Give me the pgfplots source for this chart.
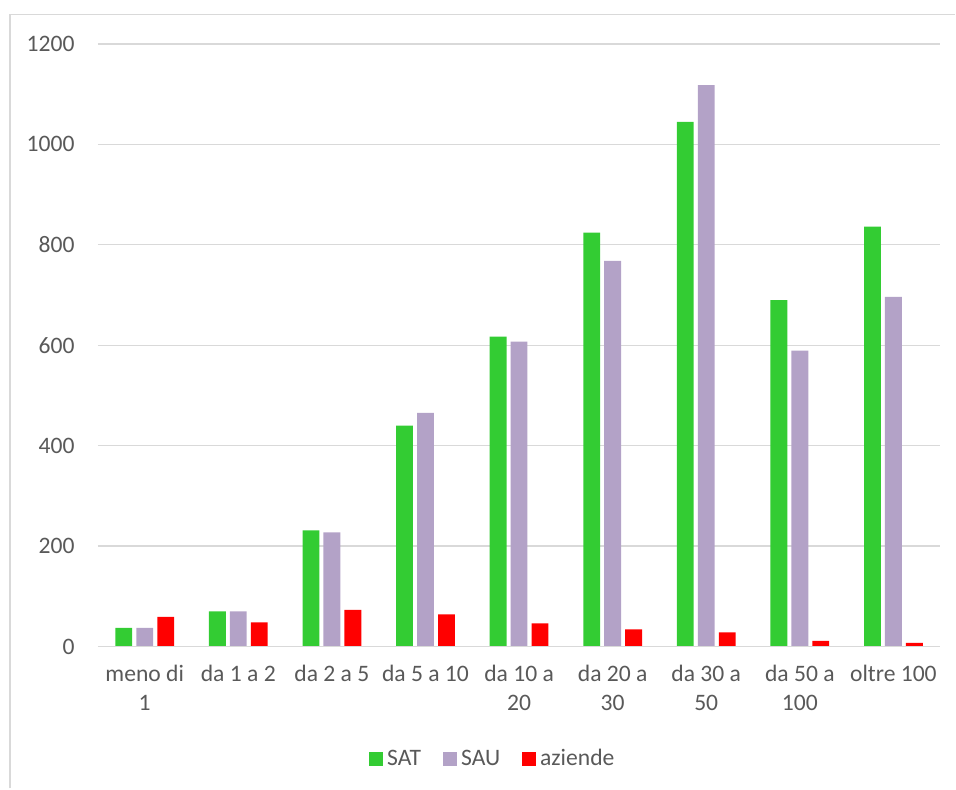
\documentclass[border=0pt]{standalone}
\usepackage{pgfplots}
\pgfplotsset{compat=1.18}
\usepackage{fontspec}
\setmainfont{Carlito}
\definecolor{satc}{HTML}{33CC33}
\definecolor{sauc}{HTML}{B3A2C7}
\definecolor{azc}{HTML}{FF0000}
\definecolor{txt}{HTML}{595959}
\definecolor{gridc}{HTML}{D9D9D9}
\begin{document}
\fontsize{11.8}{14}\selectfont
\begin{tikzpicture}
\path (0,0) rectangle (478pt,394.5pt);
\draw[gridc, line width=0.8pt] (5pt,0pt) -- (5pt,387.25pt) -- (478pt,387.25pt);
\begin{axis}[
  at={(49pt,71pt)}, anchor=south west,
  scale only axis, width=421.5pt, height=301.5pt,
  xmin=-0.5, xmax=8.5, ymin=0, ymax=1200,
  axis line style={draw=none},
  ybar, bar width=0.18,
  ytick={0,200,...,1200},
  ymajorgrids, grid style={gridc, line width=0.6pt},
  major tick length=0pt,
  xtick={0,...,8},
  xticklabels={{meno di\\1},{da 1 a 2},{da 2 a 5},{da 5 a 10},{da 10 a\\20},{da 20 a\\30},{da 30 a\\50},{da 50 a\\100},{oltre 100}},
  xticklabel style={anchor=north, inner sep=0pt, yshift=-9pt, align=center, text=txt, font=\fontsize{11.8}{14.5}\selectfont},
  yticklabel style={anchor=east, inner sep=0pt, xshift=-11.5pt, text=txt, font=\fontsize{11.8}{14}\selectfont},
  /pgf/number format/assume math mode=true,
  /pgf/number format/1000 sep={},
  legend style={at={(0.470,-0.187)}, anchor=center, draw=none, fill=none, legend columns=-1, font=\fontsize{11.8}{14}\selectfont, text=txt,
    /tikz/every even column/.append style={column sep=9pt}},
  legend image code/.code={\fill[#1] (0pt,-3.5pt) rectangle (7pt,3.5pt);},
]
\addplot[fill=satc, draw=none, bar shift=-0.224] coordinates {(0,37) (1,70) (2,231) (3,440) (4,617) (5,824) (6,1045) (7,690) (8,836)};
\addplot[fill=sauc, draw=none, bar shift=0] coordinates {(0,37) (1,70) (2,227) (3,465) (4,607) (5,768) (6,1118) (7,589) (8,696)};
\addplot[fill=azc, draw=none, bar shift=0.224] coordinates {(0,59) (1,48) (2,73) (3,64) (4,46) (5,34) (6,28) (7,11) (8,7)};
\legend{SAT,SAU,aziende}
\draw[gridc, line width=0.9pt] (axis cs:-0.5,0) -- (axis cs:8.5,0);
\end{axis}
\end{tikzpicture}
\end{document}
